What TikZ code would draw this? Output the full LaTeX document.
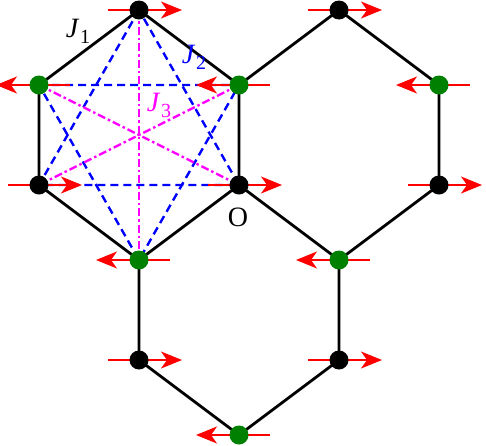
\documentclass[tikz,border=0pt]{standalone}
\usepackage{fontspec}
\setmainfont{Liberation Serif}
\usetikzlibrary{arrows.meta}
\definecolor{sgreen}{RGB}{0,128,0}
\definecolor{smag}{RGB}{255,0,255}
\definecolor{sblue}{RGB}{0,0,255}
\definecolor{sred}{RGB}{255,0,0}
\tikzset{
  bond/.style={line width=2.8pt, black},
  jtwo/.style={line width=2.4pt, sblue, dash pattern=on 8pt off 5pt},
  jthree/.style={line width=2.4pt, smag, dash pattern=on 8pt off 3pt on 2.5pt off 3pt},
  spin/.style={line width=1.6pt, sred, -{Stealth[length=21pt,width=17pt,inset=6pt]}},
  upsite/.style={circle, fill=black, minimum size=19pt, inner sep=0pt},
  dnsite/.style={circle, fill=sgreen, minimum size=19pt, inner sep=0pt},
  lab/.style={font=\fontsize{28}{32}\selectfont, inner sep=0pt}
}
\newcommand{\Jlab}[1]{\textit{J}\kern0.5pt\raisebox{-6pt}{\fontsize{20}{22}\selectfont #1}}
\begin{document}
\begin{tikzpicture}[x=1pt,y=-1pt]
\useasboundingbox (0,0) rectangle (486,445);
% positions
\coordinate (t1) at (139,10);
\coordinate (gl) at (39,85);
\coordinate (gr) at (239,85);
\coordinate (bl) at (39,185);
\coordinate (o) at (239,185);
\coordinate (gb) at (139,260);
\coordinate (t2) at (339,10);
\coordinate (gr2) at (439,85);
\coordinate (br2) at (439,185);
\coordinate (gb2) at (339,260);
\coordinate (b3l) at (139,360);
\coordinate (b3r) at (339,360);
\coordinate (g3) at (239,435);
% J1 bonds
\draw[bond] (t1) -- (gr) -- (o) -- (gb) -- (bl) -- (gl) -- cycle;
\draw[bond] (gr) -- (t2) -- (gr2) -- (br2) -- (gb2) -- (o);
\draw[bond] (gb) -- (b3l) -- (g3) -- (b3r) -- (gb2);
% J2
\draw[jtwo] (t1) -- (bl) -- (o) -- cycle;
\draw[jtwo] (gl) -- (gr) -- (gb) -- cycle;
% J3
\draw[jthree] (t1) -- (gb);
\draw[jthree] (gl) -- (o);
\draw[jthree] (gr) -- (bl);
% spins
\foreach \p in {t1,t2,bl,o,br2,b3l,b3r}{
  \draw[spin] ([xshift=-31pt]\p) -- ([xshift=43pt]\p);
}
\foreach \p in {gl,gr,gr2,gb,gb2,g3}{
  \draw[spin] ([xshift=31pt]\p) -- ([xshift=-43pt]\p);
}
% sites
\foreach \p in {t1,t2,bl,o,br2,b3l,b3r}{
  \node[upsite] (s\p) at (\p) {};
}
\foreach \p in {gl,gr,gr2,gb,gb2,g3}{
  \node[dnsite] (s\p) at (\p) {};
}
% labels
\node[lab] (l1) at (78,31) {\Jlab{1}};
\node[lab, sblue] (l2) at (194,57) {\Jlab{2}};
\node[lab, smag] (l3) at (159,105) {\Jlab{3}};
\node[lab] (lo) at (238,217) {O};
\end{tikzpicture}
\end{document}
